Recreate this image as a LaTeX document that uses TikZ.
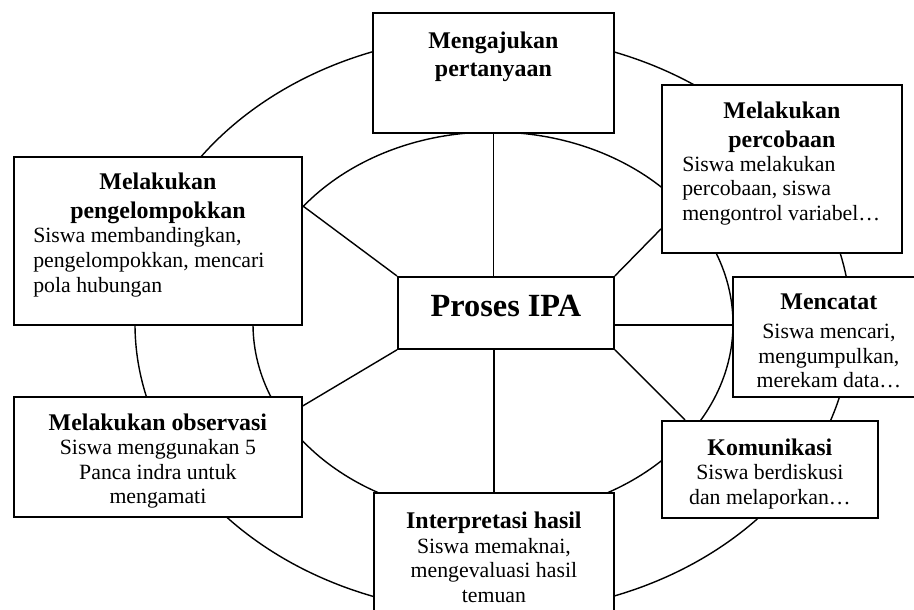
\documentclass[tikz,border=0pt]{standalone}
\usepackage{fontspec}
\setmainfont{Liberation Serif}
\usetikzlibrary{positioning}
\newcommand{\titlefont}{\fontsize{17}{20.5}\selectfont\bfseries}
\newcommand{\bodyfont}{\fontsize{15.5}{17.5}\selectfont}
\newcommand{\procfont}{\fontsize{23}{27}\selectfont\bfseries}

\begin{document}
\begin{tikzpicture}[scale=1.0,
        boxnode/.style={anchor=north west, draw, fill=white, line width=1.3pt, shape=rectangle, inner sep=0pt},
        titletext/.style={font=\titlefont, align=center, inner sep=0pt},
        bodytext/.style={font=\bodyfont, align=center, inner sep=0pt},
        ringline/.style={line width=1pt}]
        \useasboundingbox (0cm,0cm) rectangle (22.85cm,15.25cm);
        \clip (0cm,0cm) rectangle (22.85cm,15.25cm);

        % the two rings
        \draw[ringline] (12.325cm,7.15cm) ellipse (8.95cm and 7.225cm);
        \draw[ringline] (12.325cm,7.15cm) ellipse (6.0cm and 4.8cm);

        \node[boxnode, minimum width=6.025cm, minimum height=3.0cm] (ask) at (9.3cm,14.95cm) {};
        \node[boxnode, minimum width=6.0cm, minimum height=4.2cm] (perc) at (16.525cm,13.15cm) {};
        \node[boxnode, minimum width=7.2cm, minimum height=4.2cm] (group) at (0.325cm,11.35cm) {};
        \node[boxnode, minimum width=5.4cm, minimum height=1.8cm] (proc) at (9.925cm,8.35cm) {};
        \node[boxnode, minimum width=4.8cm, minimum height=3.0cm] (note) at (18.3cm,8.35cm) {};
        \node[boxnode, minimum width=7.2cm, minimum height=3.0cm] (obs) at (0.325cm,5.35cm) {};
        \node[boxnode, minimum width=6.0cm, minimum height=3.25cm] (interp) at (9.325cm,2.95cm) {};
        \node[boxnode, minimum width=5.4cm, minimum height=2.425cm] (comm) at (16.525cm,4.75cm) {};

        % spokes
        \draw[ringline] (ask.south) -- (ask.south |- proc.north);
        \draw[ringline] (interp.north) -- (interp.north |- proc.south);
        \draw[ringline] (proc.north west) -- ([yshift=0.875cm]group.east);
        \draw[ringline] (proc.south west) -- ([yshift=1.275cm]obs.east);
        \draw[ringline] (proc.north east) -- ([yshift=-1.5cm]perc.west);
        \draw[ringline] ([yshift=-0.3cm]proc.east) -- ([yshift=-0.3cm]proc.east -| note.west);
        \draw[ringline] (proc.south east) -- ([xshift=0.6cm]comm.north west);

        \node[titletext, below=0.48cm of ask.north] (asktext) {Mengajukan\\pertanyaan};
        \node[titletext, below=0.45cm of perc.north] (perctitle) {Melakukan\\percobaan};
        \node[bodytext, align=left, below right=1.8cm and 0.525cm of perc.north west] (percbody) {Siswa melakukan\\percobaan, siswa\\mengontrol variabel…};
        \node[titletext, below=0.425cm of group.north] (grouptitle) {Melakukan\\pengelompokkan};
        \node[bodytext, align=left, below right=1.79cm and 0.5cm of group.north west] (groupbody) {Siswa membandingkan,\\pengelompokkan, mencari\\pola hubungan};
        \node[inner sep=0pt, font=\procfont, below=0.48cm of proc.north] (proctext) {Proses IPA};
        \node[bodytext, below=0.43cm of note.north] (notetext) {{\titlefont Mencatat}\\[3.5pt]Siswa mencari,\\mengumpulkan,\\merekam data…};
        \node[bodytext, below=0.43cm of obs.north] (obstext) {{\titlefont Melakukan observasi}\\Siswa menggunakan 5\\Panca indra untuk\\mengamati};
        \node[bodytext, below=0.46cm of comm.north] (commtext) {{\titlefont Komunikasi}\\Siswa berdiskusi\\dan melaporkan…};
        \node[bodytext, below=0.49cm of interp.north] (interptext) {{\titlefont Interpretasi hasil}\\Siswa memaknai,\\mengevaluasi hasil\\temuan};

\end{tikzpicture}
\end{document}
